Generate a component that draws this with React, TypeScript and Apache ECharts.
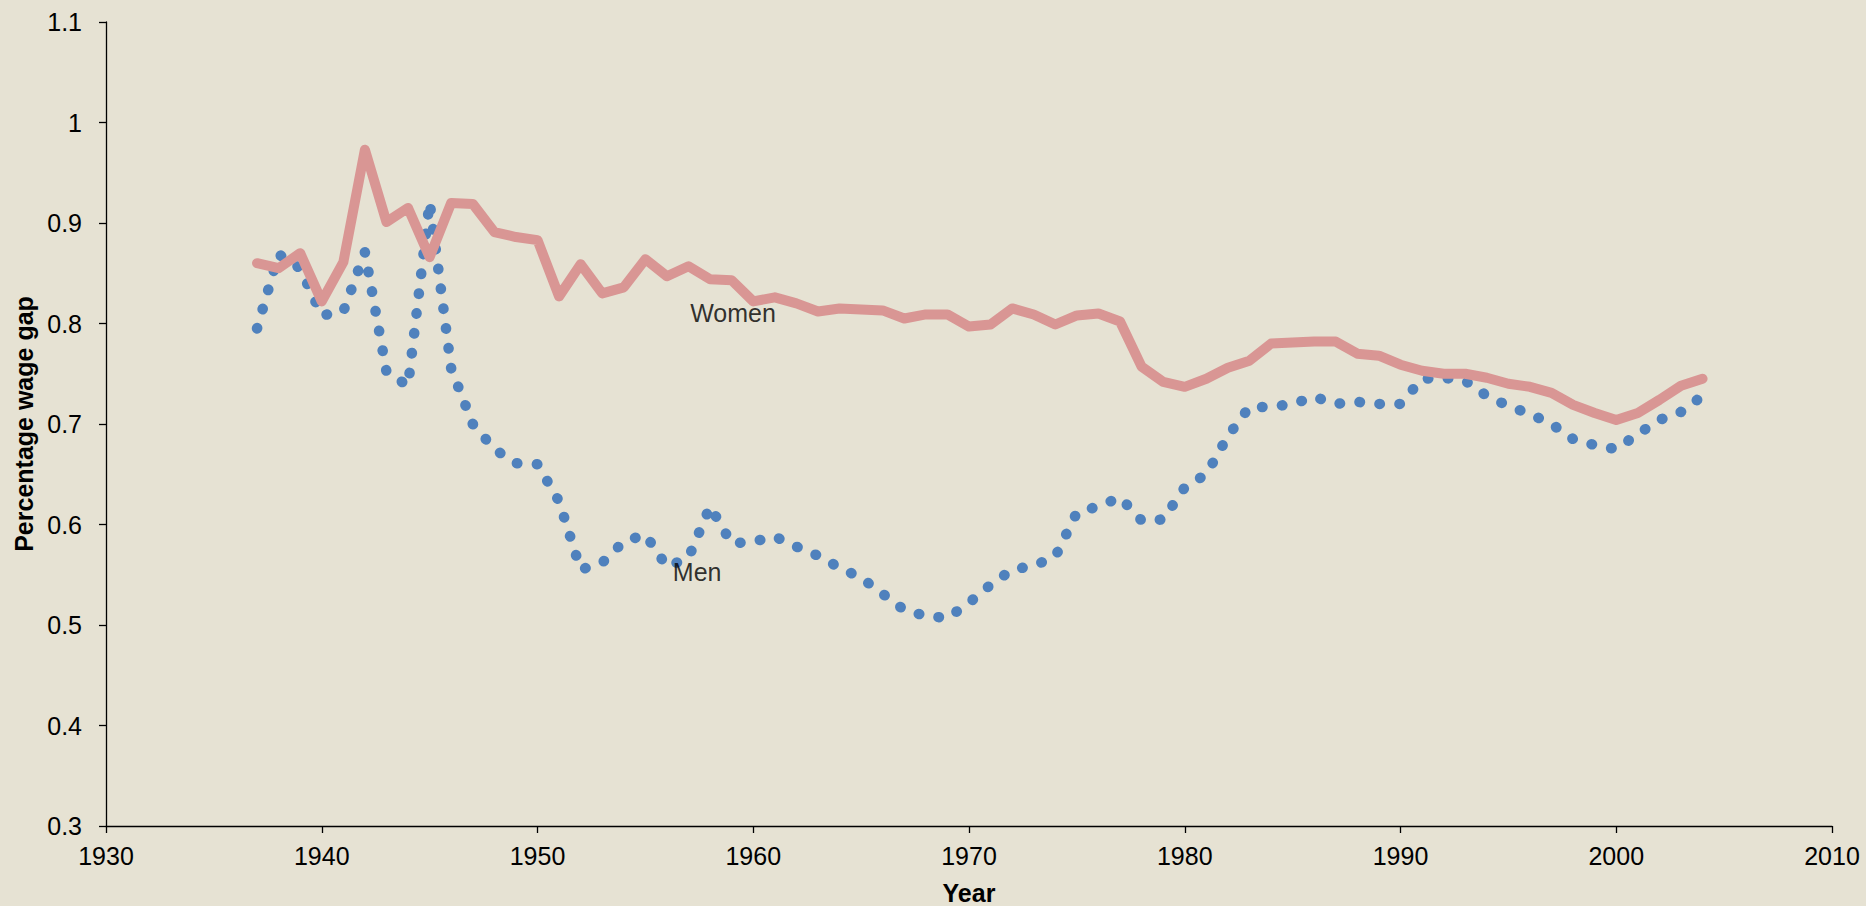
import React, { useEffect, useRef } from "react";
import * as echarts from "echarts";

const years: number[] = [];
for (let y = 1937; y <= 2004; y++) years.push(y);

const women: number[] = [
  0.860, 0.855, 0.870, 0.822, 0.861, 0.973, 0.901, 0.915, 0.866, 0.920,
  0.919, 0.891, 0.886, 0.883, 0.827, 0.859, 0.830, 0.836, 0.864, 0.847,
  0.857, 0.844, 0.843, 0.822, 0.826, 0.820, 0.812, 0.815, 0.814, 0.813,
  0.805, 0.809, 0.809, 0.797, 0.799, 0.815, 0.809, 0.799, 0.808, 0.810,
  0.802, 0.757, 0.742, 0.737, 0.745, 0.756, 0.763, 0.780, 0.781, 0.782,
  0.782, 0.770, 0.768, 0.759, 0.753, 0.750, 0.750, 0.746, 0.740, 0.737,
  0.731, 0.719, 0.711, 0.704, 0.711, 0.724, 0.738, 0.745,
];

const men: number[] = [
  0.795, 0.869, 0.855, 0.808, 0.812, 0.871, 0.752, 0.738, 0.921, 0.755,
  0.700, 0.675, 0.661, 0.660, 0.623, 0.555, 0.562, 0.583, 0.590, 0.558,
  0.567, 0.618, 0.581, 0.583, 0.588, 0.578, 0.569, 0.557, 0.547, 0.531,
  0.515, 0.509, 0.507, 0.522, 0.540, 0.555, 0.559, 0.568, 0.612, 0.618,
  0.627, 0.604, 0.605, 0.637, 0.650, 0.688, 0.717, 0.717, 0.720, 0.727,
  0.720, 0.722, 0.720, 0.720, 0.745, 0.746, 0.743, 0.728, 0.718, 0.710,
  0.700, 0.685, 0.679, 0.675, 0.690, 0.704, 0.712, 0.728,
];

const seriesLabels = [
  { name: "Women", year: 1959.06, value: 0.81 },
  { name: "Men", year: 1957.4, value: 0.553 },
];

const FONT = "'Liberation Sans', Arial, Helvetica, sans-serif";

export default function App() {
  const ref = useRef<HTMLDivElement>(null);

  useEffect(() => {
    if (!ref.current) return;
    const chart = echarts.init(ref.current, undefined, { renderer: "svg" });
    const axisLine = { show: true, lineStyle: { color: "#000", width: 1.3 } };
    chart.setOption({
      animation: false,
      backgroundColor: "#E6E2D3",
      textStyle: { fontFamily: FONT },
      grid: {
        left: 106,
        right: 34,
        top: 22,
        bottom: 80,
        containLabel: false,
        outerBoundsMode: "none",
      },
      xAxis: {
        type: "value",
        min: 1930,
        max: 2010,
        interval: 10,
        name: "Year",
        nameLocation: "middle",
        nameGap: 54,
        nameTextStyle: { fontSize: 25, fontWeight: "bold", color: "#000", fontFamily: FONT },
        axisLine,
        axisTick: { show: true, inside: false, length: 7, lineStyle: { color: "#000", width: 1.3 } },
        axisLabel: {
          fontSize: 25,
          color: "#000",
          margin: 17,
          fontFamily: FONT,
          formatter: (v: number) => String(Math.round(v)),
        },
        splitLine: { show: false },
      },
      yAxis: {
        type: "value",
        min: 0.3,
        max: 1.1,
        interval: 0.1,
        name: "Percentage wage gap",
        nameLocation: "middle",
        nameGap: 67,
        nameRotate: 90,
        nameTextStyle: { fontSize: 25, fontWeight: "bold", color: "#000", fontFamily: FONT },
        axisLine,
        axisTick: { show: true, inside: false, length: 7, lineStyle: { color: "#000", width: 1.3 } },
        axisLabel: {
          fontSize: 25,
          color: "#000",
          margin: 24,
          fontFamily: FONT,
          formatter: (v: number) => String(Math.round(v * 10) / 10),
        },
        splitLine: { show: false },
      },
      series: [
        {
          name: "Men",
          type: "line",
          data: years.map((y, i) => [y, men[i]]),
          showSymbol: false,
          symbol: "none",
          lineStyle: { color: "#4F81BD", width: 10.5, type: [0.5, 19.5], cap: "round", join: "round" },
          z: 2,
        },
        {
          name: "Women",
          type: "line",
          data: years.map((y, i) => [y, women[i]]),
          showSymbol: false,
          symbol: "none",
          lineStyle: { color: "#D99694", width: 10, cap: "round", join: "round" },
          z: 3,
        },
        {
          name: "labels",
          type: "scatter",
          symbolSize: 0,
          data: seriesLabels.map((l) => ({ name: l.name, value: [l.year, l.value] })),
          label: {
            show: true,
            position: "inside",
            formatter: (p: any) => p.name,
            fontSize: 25,
            color: "#000",
            fontFamily: FONT,
          },
          z: 4,
        },
      ],
    });
    return () => chart.dispose();
  }, []);

  return (
    <div
      ref={ref}
      style={{ position: "fixed", left: 0, top: 0, width: 1866, height: 906 }}
    />
  );
}
